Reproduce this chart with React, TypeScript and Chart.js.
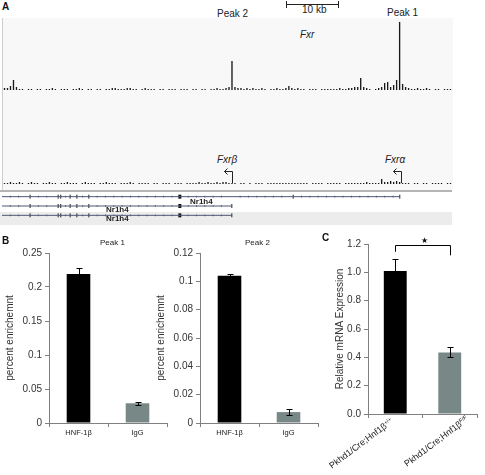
import React, { useEffect, useRef } from "react";
import { Chart, registerables } from "chart.js";

Chart.register(...registerables);
Chart.defaults.font.family = "'Liberation Sans', Arial, sans-serif";
Chart.defaults.color = "#333";

// ---------- Panel A data ----------
// ChIP-seq coverage, 150 bins across the locus (read heights)
const TRACK1_COVERAGE = [
  2, 2, 4, 10, 3, 1, 1, 0, 1, 1,
  0, 1, 1, 0, 1, 1, 2, 1, 0, 1,
  1, 1, 0, 1, 1, 2, 1, 0, 1, 1,
  0, 1, 1, 0, 1, 1, 2, 2, 1, 1,
  1, 2, 2, 1, 1, 0, 1, 2, 1, 1,
  1, 0, 1, 1, 0, 1, 1, 1, 0, 1,
  1, 1, 0, 1, 1, 0, 1, 1, 0, 1,
  1, 2, 1, 1, 2, 3, 29, 3, 2, 2,
  1, 2, 1, 2, 1, 1, 2, 1, 0, 1,
  1, 2, 1, 1, 2, 4, 2, 1, 2, 1,
  1, 0, 1, 1, 1, 0, 1, 1, 1, 1,
  1, 1, 2, 1, 1, 2, 2, 3, 3, 12,
  3, 2, 1, 0, 1, 2, 3, 7, 8, 3,
  5, 10, 68, 6, 3, 2, 1, 1, 2, 1,
  1, 2, 1, 0, 1, 1, 0, 1, 1, 1,
];
const TRACK2_COVERAGE = [
  1, 1, 2, 1, 1, 2, 1, 0, 1, 2,
  1, 1, 0, 1, 1, 2, 1, 1, 0, 1,
  1, 2, 1, 1, 1, 0, 1, 2, 1, 1,
  1, 0, 1, 1, 2, 1, 1, 1, 0, 1,
  1, 1, 2, 1, 0, 1, 1, 1, 1, 0,
  1, 1, 0, 1, 1, 1, 0, 1, 1, 1,
  0, 1, 1, 1, 1, 2, 1, 1, 2, 1,
  1, 2, 1, 2, 2, 1, 1, 1, 0, 1,
  1, 0, 1, 0, 1, 1, 1, 0, 1, 1,
  1, 1, 1, 1, 1, 1, 1, 1, 1, 1,
  1, 1, 0, 1, 1, 1, 1, 0, 1, 1,
  1, 1, 1, 0, 1, 1, 1, 1, 1, 1,
  1, 2, 1, 1, 1, 1, 5, 2, 2, 3,
  2, 3, 2, 1, 1, 1, 0, 1, 1, 0,
  1, 1, 0, 1, 1, 1, 1, 0, 1, 1,
];
// Gene models (kb from left edge of the locus)
const TRANSCRIPT_ENDS = [76.5, 44.2, 44.2];
const SHARED_EXONS = [5.4, 10.8, 11.3, 13.1, 14.4, 16.7];
const FIRST_EXON = 34.2;
const LONG_ONLY_EXONS = [56.0];
const INTRON_MARKS = [
  1.6, 3.2, 7.0, 8.6, 12.2, 15.5, 18.3, 19.9, 21.5, 23.1, 24.7, 26.3, 27.9, 29.5,
  31.1, 32.7, 35.8, 37.4, 39.0, 40.6, 42.2, 45.8, 47.4, 49.0, 50.6, 52.2, 53.8,
  57.6, 59.2, 60.8, 62.4, 64.0, 65.6, 67.2, 68.8, 70.4, 72.0, 73.6, 75.2,
];
const LOCUS_KB = 86.54;

// ---------- Panel B data ----------
const B_CATEGORIES = ["HNF-1β", "IgG"];
const PEAK1_VALUES = [0.219, 0.029];
const PEAK1_ERRORS = [0.0085, 0.002];
const PEAK2_VALUES = [0.104, 0.0077];
const PEAK2_ERRORS = [0.0015, 0.002];

// ---------- Panel C data ----------
const C_CATEGORIES = ["Pkhd1/Cre;Hnf1β+/+", "Pkhd1/Cre;Hnf1βF/F"];
const C_VALUES = [1.01, 0.435];
const C_ERRORS = [0.085, 0.035];
const SIG_BRACKET_Y = 1.19;
const SIG_LEG_ENDS = [1.145, 1.12];

const BAR_COLORS = ["#000000", "#788886"];
const AXIS_COLOR = "#808080";

function errorBars(errors: number[]) {
  return {
    id: "errorBars",
    afterDatasetsDraw(chart: any) {
      const meta = chart.getDatasetMeta(0);
      const ys = chart.scales.y;
      const vals = chart.data.datasets[0].data as number[];
      const ctx = chart.ctx;
      ctx.save();
      ctx.strokeStyle = "#000";
      ctx.lineWidth = 1;
      meta.data.forEach((bar: any, i: number) => {
        const x = Math.round(bar.x) + 0.5;
        const yt = Math.round(ys.getPixelForValue(vals[i] + errors[i])) + 0.5;
        const yb = Math.round(ys.getPixelForValue(vals[i] - errors[i])) + 0.5;
        ctx.beginPath();
        ctx.moveTo(x, yt);
        ctx.lineTo(x, yb);
        ctx.moveTo(x - 3, yt);
        ctx.lineTo(x + 3, yt);
        ctx.moveTo(x - 3, yb);
        ctx.lineTo(x + 3, yb);
        ctx.stroke();
      });
      ctx.restore();
    },
  };
}

const bracketPlugin = {
  id: "bracket",
  afterDatasetsDraw(chart: any) {
    const meta = chart.getDatasetMeta(0);
    const ys = chart.scales.y;
    const ctx = chart.ctx;
    const x0 = Math.round(meta.data[0].x) + 0.5;
    const x1 = Math.round(meta.data[1].x) + 0.5;
    const y = Math.round(ys.getPixelForValue(SIG_BRACKET_Y)) + 0.5;
    ctx.save();
    ctx.strokeStyle = "#000";
    ctx.lineWidth = 1;
    ctx.beginPath();
    ctx.moveTo(x0, ys.getPixelForValue(SIG_LEG_ENDS[0]));
    ctx.lineTo(x0, y);
    ctx.lineTo(x1, y);
    ctx.lineTo(x1, ys.getPixelForValue(SIG_LEG_ENDS[1]));
    ctx.stroke();
    ctx.restore();
  },
};

function ChartBox({ left, top, width, height, config }: any) {
  const ref = useRef<HTMLCanvasElement | null>(null);
  useEffect(() => {
    if (!ref.current) return;
    const chart = new Chart(ref.current, config);
    return () => chart.destroy();
  }, []);
  return (
    <canvas
      ref={ref}
      width={width}
      height={height}
      style={{ position: "absolute", left, top, width, height }}
    />
  );
}

function Txt({ x, y, children, style }: any) {
  return (
    <div
      style={{
        position: "absolute",
        left: x,
        top: y,
        transform: "translateY(-50%)",
        whiteSpace: "nowrap",
        lineHeight: 1,
        fontFamily: "'Liberation Sans', Arial, sans-serif",
        color: "#222",
        ...style,
      }}
    >
      {children}
    </div>
  );
}

function trackConfig(values: number[], max: number) {
  return {
    type: "bar",
    data: {
      labels: values.map((_, i) => String(i)),
      datasets: [
        {
          data: values,
          backgroundColor: "#1a1a1a",
          barPercentage: 0.45,
          categoryPercentage: 1,
        },
      ],
    },
    options: {
      animation: false,
      responsive: false,
      events: [],
      layout: { padding: 0, autoPadding: false },
      plugins: { legend: { display: false }, tooltip: { enabled: false } },
      scales: {
        x: { display: false },
        y: { display: false, min: 0, max },
      },
    },
  };
}

function geneConfig() {
  const datasets: any[] = [];
  TRANSCRIPT_ENDS.forEach((end, r) => {
    datasets.push({
      type: "line",
      data: [
        { x: 0, y: r },
        { x: end, y: r },
      ],
      borderColor: "#4e5873",
      borderWidth: 1,
      pointRadius: 0,
    });
  });
  const markSet = (pts: any[], radius: number, width: number, color: string) => ({
    type: "scatter",
    data: pts,
    pointStyle: "line",
    pointRotation: 90,
    pointRadius: radius,
    pointBorderWidth: width,
    pointBorderColor: color,
    borderColor: color,
    borderWidth: width,
  });
  const introns: any[] = [];
  const exons: any[] = [];
  const first: any[] = [];
  TRANSCRIPT_ENDS.forEach((end, r) => {
    INTRON_MARKS.filter((m) => m < end).forEach((m) => introns.push({ x: m, y: r }));
    SHARED_EXONS.forEach((e) => exons.push({ x: e, y: r }));
    if (r === 0) LONG_ONLY_EXONS.forEach((e) => exons.push({ x: e, y: r }));
    exons.push({ x: end, y: r });
    first.push({ x: FIRST_EXON, y: r });
  });
  datasets.push(markSet(introns, 1, 1, "#7a8296"));
  datasets.push(markSet(exons, 2, 1, "#222"));
  datasets.push(markSet(first, 2, 3, "#111"));
  return {
    type: "scatter",
    data: { datasets },
    options: {
      animation: false,
      responsive: false,
      events: [],
      layout: { padding: 0, autoPadding: false },
      plugins: { legend: { display: false }, tooltip: { enabled: false } },
      scales: {
        x: { type: "linear", display: false, min: 0, max: LOCUS_KB },
        y: { type: "linear", display: false, min: -0.5, max: 2.5, reverse: true },
      },
    },
  };
}

function barConfig(opts: any) {
  const {
    labels, values, errors, max, step, yWidth, xHeight, padTop, padRight,
    title, showXLabels, decimals, barPct, extraPlugins,
  } = opts;
  return {
    type: "bar",
    data: {
      labels,
      datasets: [
        {
          data: values,
          backgroundColor: BAR_COLORS,
          barPercentage: barPct,
          categoryPercentage: 1,
        },
      ],
    },
    options: {
      animation: false,
      responsive: false,
      events: [],
      layout: { padding: { top: padTop, right: padRight, left: 0, bottom: 0 } },
      plugins: { legend: { display: false }, tooltip: { enabled: false } },
      scales: {
        x: {
          ticks: {
            display: showXLabels,
            color: "#222",
            font: { size: 7.5 },
            padding: 1,
            maxRotation: 0,
          },
          grid: {
            display: true,
            drawOnChartArea: false,
            drawTicks: true,
            tickLength: 4,
            color: AXIS_COLOR,
            offset: true,
          },
          border: { display: true, color: AXIS_COLOR },
          afterFit: (s: any) => {
            s.height = xHeight;
          },
        },
        y: {
          min: 0,
          max,
          ticks: {
            stepSize: step,
            color: "#333",
            font: { size: 10 },
            padding: 3,
            callback: (v: any) =>
              decimals != null ? Number(v).toFixed(decimals) : String(Math.round(Number(v) * 1000) / 1000),
          },
          grid: {
            drawOnChartArea: false,
            drawTicks: true,
            tickLength: 4,
            color: AXIS_COLOR,
          },
          border: { display: true, color: AXIS_COLOR },
          title: {
            display: true,
            text: title,
            color: "#333",
            font: { size: 10 },
            padding: { top: 4, bottom: 0 },
          },
          afterFit: (s: any) => {
            s.width = yWidth;
          },
        },
      },
    },
    plugins: [errorBars(errors), ...(extraPlugins || [])],
  };
}

function CLabel({ x, y, main, sup }: any) {
  return (
    <div style={{ position: "absolute", left: x, top: y, width: 0, height: 0 }}>
      <span
        style={{
          position: "absolute",
          right: 0,
          top: -5,
          whiteSpace: "nowrap",
          lineHeight: "10px",
          fontSize: 9,
          color: "#222",
          fontFamily: "'Liberation Sans', Arial, sans-serif",
          transform: "rotate(-37deg)",
          transformOrigin: "right center",
        }}
      >
        {main}
        <span style={{ fontSize: 5.5, position: "relative", top: -3 }}>{sup}</span>
      </span>
    </div>
  );
}

export default function App() {
  return (
    <div
      style={{
        position: "absolute",
        left: 0,
        top: 0,
        width: 485,
        height: 475,
        background: "#fff",
        overflow: "hidden",
        fontFamily: "'Liberation Sans', Arial, sans-serif",
      }}
    >
      {/* ---------- Panel A ---------- */}
      <div
        style={{
          position: "absolute",
          left: 2,
          top: 18,
          width: 450,
          height: 172,
          background: "#f8f8f8",
          borderLeft: "1px solid #cfcfcf",
        }}
      />
      <div style={{ position: "absolute", left: 0, top: 190, width: 452, height: 2, background: "#b5b5b5" }} />
      <div style={{ position: "absolute", left: 0, top: 212, width: 452, height: 13, background: "#ececec" }} />

      <Txt x={2} y={7} style={{ fontWeight: "bold", fontSize: 10, color: "#111" }}>A</Txt>
      {/* scale bar */}
      <div style={{ position: "absolute", left: 286, top: 4, width: 52, height: 0, borderTop: "1px solid #222" }} />
      <div style={{ position: "absolute", left: 286, top: 1, width: 0, height: 7, borderLeft: "1px solid #222" }} />
      <div style={{ position: "absolute", left: 338, top: 1, width: 0, height: 7, borderLeft: "1px solid #222" }} />
      <Txt x={302} y={10} style={{ fontSize: 10 }}>10 kb</Txt>
      <Txt x={217} y={14} style={{ fontSize: 10 }}>Peak 2</Txt>
      <Txt x={387} y={13} style={{ fontSize: 10 }}>Peak 1</Txt>
      <Txt x={300} y={35} style={{ fontSize: 10, fontStyle: "italic" }}>Fxr</Txt>
      <Txt x={217} y={160} style={{ fontSize: 10, fontStyle: "italic" }}>Fxrβ</Txt>
      <Txt x={385} y={160} style={{ fontSize: 10, fontStyle: "italic" }}>Fxrα</Txt>

      <ChartBox left={3} top={15} width={449} height={75} config={trackConfig(TRACK1_COVERAGE, 75)} />
      <ChartBox left={3} top={172} width={449} height={12} config={trackConfig(TRACK2_COVERAGE, 12)} />

      <svg
        width={485}
        height={225}
        style={{ position: "absolute", left: 0, top: 0 }}
      >
        <g stroke="#222" strokeWidth={1} fill="none">
          <path d="M232.5 183 V171.5 H224.5 M227.5 168.5 L224.5 171.5 L227.5 174.5" />
          <path d="M401.5 183 V171.5 H393.5 M396.5 168.5 L393.5 171.5 L396.5 174.5" />
        </g>
      </svg>

      <ChartBox left={2} top={192} width={450} height={28} config={geneConfig()} />
      <Txt x={190} y={201.5} style={{ fontSize: 8, fontWeight: "bold" }}>Nr1h4</Txt>
      <Txt x={106} y={209.5} style={{ fontSize: 8, fontWeight: "bold" }}>Nr1h4</Txt>
      <Txt x={106} y={219} style={{ fontSize: 8, fontWeight: "bold" }}>Nr1h4</Txt>

      {/* ---------- Panel B ---------- */}
      <Txt x={2} y={241} style={{ fontWeight: "bold", fontSize: 10, color: "#111" }}>B</Txt>
      <Txt x={100} y={243} style={{ fontSize: 8 }}>Peak 1</Txt>
      <Txt x={245} y={243} style={{ fontSize: 8 }}>Peak 2</Txt>
      <ChartBox
        left={0}
        top={240}
        width={172}
        height={200}
        config={barConfig({
          labels: B_CATEGORIES,
          values: PEAK1_VALUES,
          errors: PEAK1_ERRORS,
          max: 0.25,
          step: 0.05,
          yWidth: 49,
          xHeight: 17,
          padTop: 13,
          padRight: 5,
          title: "percent enrichemnt",
          showXLabels: true,
          barPct: 0.4,
        })}
      />
      <ChartBox
        left={151}
        top={240}
        width={172}
        height={200}
        config={barConfig({
          labels: B_CATEGORIES,
          values: PEAK2_VALUES,
          errors: PEAK2_ERRORS,
          max: 0.12,
          step: 0.02,
          yWidth: 49,
          xHeight: 17,
          padTop: 13,
          padRight: 5,
          title: "percent enrichemnt",
          showXLabels: true,
          barPct: 0.4,
        })}
      />

      {/* ---------- Panel C ---------- */}
      <Txt x={322} y={238} style={{ fontWeight: "bold", fontSize: 10, color: "#111" }}>C</Txt>
      <ChartBox
        left={330}
        top={230}
        width={150}
        height={240}
        config={barConfig({
          labels: C_CATEGORIES,
          values: C_VALUES,
          errors: C_ERRORS,
          max: 1.2,
          step: 0.2,
          yWidth: 38,
          xHeight: 56,
          padTop: 14,
          padRight: 3,
          title: "Relative mRNA Expression",
          showXLabels: false,
          decimals: 1,
          barPct: 0.42,
          extraPlugins: [bracketPlugin],
        })}
      />
      <Txt x={421} y={241} style={{ fontSize: 8, color: "#111" }}>★</Txt>
      <CLabel x={392} y={420} main="Pkhd1/Cre;Hnf1β" sup="+/+" />
      <CLabel x={467} y={418} main="Pkhd1/Cre;Hnf1β" sup="F/F" />
    </div>
  );
}
